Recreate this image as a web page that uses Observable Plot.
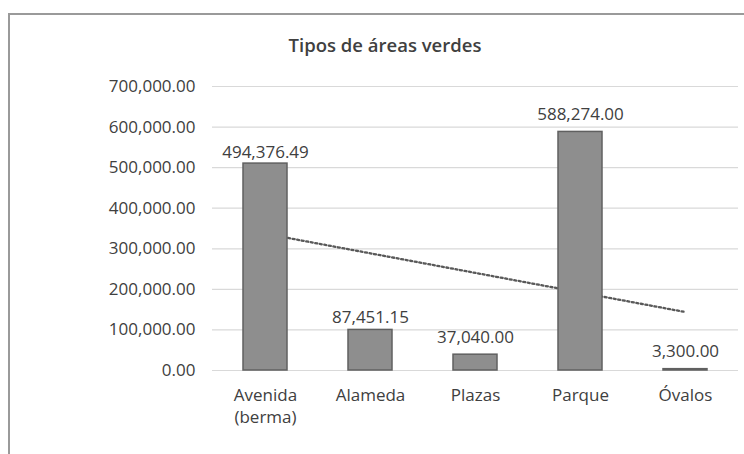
<!DOCTYPE html>
<html>
<head>
<meta charset="utf-8">
<script src="https://cdn.jsdelivr.net/npm/d3@7"></script>
<script src="https://cdn.jsdelivr.net/npm/@observablehq/plot@0.6"></script>
<style>
  html, body { margin: 0; padding: 0; background: #fff; }
  #wrap { position: relative; width: 744px; height: 454px; overflow: hidden; font-family: "Open Sans", sans-serif; }
  #frame { position: absolute; left: 8px; top: 13px; width: 800px; height: 500px; border: 2px solid #9a9a9a; box-sizing: border-box; }
  #title { position: absolute; left: 0; top: 0; width: 770px; height: 70px; text-align: center; line-height: 1; }
  #title span { position: absolute; left: 385px; top: 36px; transform: translateX(-50%); font-size: 18.5px; font-weight: 600; color: #404040; white-space: nowrap; }
  #chart { position: absolute; left: 0; top: 70px; }
</style>
</head>
<body>
<div id="wrap">
  <div id="frame"></div>
  <div id="title"><span>Tipos de áreas verdes</span></div>
  <div id="chart"></div>
</div>
<script>
const categories = ["Avenida\n(berma)", "Alameda", "Plazas", "Parque", "Óvalos"];
// bar heights as drawn in the picture
const barValues = [510000, 100000, 39000, 588000, 3300];
// data labels printed above the bars
const labelValues = [494376.49, 87451.15, 37040.00, 588274.00, 3300.00];
// dotted trend line, endpoints
const trendCategories = ["Avenida\n(berma)", "Óvalos"];
const trendValues = [337000, 144000];
const yTicks = [0, 100000, 200000, 300000, 400000, 500000, 600000, 700000];

const bars = categories.map((c, i) => ({cat: c, value: barValues[i], label: labelValues[i]}));
const trend = trendCategories.map((c, i) => ({cat: c, value: trendValues[i]}));
const fmt = d3.format(",.2f");
const textColor = "#404040";

const chart = Plot.plot({
  width: 744,
  height: 384,
  marginTop: 16,
  marginBottom: 84,
  marginLeft: 212,
  marginRight: 6,
  style: {fontFamily: "Open Sans, sans-serif", fontSize: "17px", color: textColor, background: "transparent"},
  x: {domain: categories, paddingInner: 0.58, paddingOuter: 0.29, label: null},
  y: {domain: [0, 700000], ticks: yTicks, label: null},
  marks: [
    Plot.gridY(yTicks, {stroke: "#d9d9d9", strokeOpacity: 1, strokeWidth: 1.2}),
    Plot.axisY(yTicks, {tickSize: 0, tickPadding: 17, tickFormat: fmt, fontSize: 17, fill: textColor, label: null}),
    Plot.axisX({tickSize: 0, tickPadding: 15, fontSize: 17, fill: textColor, lineHeight: 1.3, label: null}),
    Plot.line(trend, {x: "cat", y: "value", stroke: "#595959", strokeWidth: 2.3, strokeDasharray: "2,2.6"}),
    Plot.barY(bars, {x: "cat", y: "value", fill: "#8e8e8e", stroke: "#606060", strokeWidth: 1.5}),
    Plot.text(bars, {x: "cat", y: "label", text: d => fmt(d.label), dy: -12, lineAnchor: "bottom", fontSize: 17, fill: textColor})
  ]
});
document.getElementById("chart").appendChild(chart);
</script>
</body>
</html>
